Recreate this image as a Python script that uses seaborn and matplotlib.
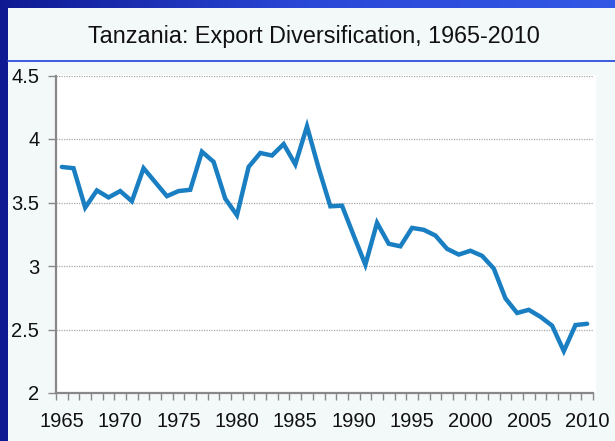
import numpy as np
import pandas as pd
import matplotlib
matplotlib.use("Agg")
import matplotlib.pyplot as plt
import seaborn as sns
from matplotlib.patches import Rectangle
from matplotlib.lines import Line2D

# --- data ---
years = list(range(1965, 2011))
diversification = [
    3.78, 3.77, 3.46, 3.595, 3.54, 3.59, 3.51, 3.77, 3.66, 3.55,
    3.59, 3.60, 3.90, 3.82, 3.53, 3.40, 3.78, 3.89, 3.87, 3.96,
    3.80, 4.10, 3.77, 3.47, 3.475, 3.24, 3.01, 3.34, 3.175, 3.155,
    3.30, 3.285, 3.24, 3.135, 3.09, 3.12, 3.08, 2.98, 2.745, 2.63,
    2.655, 2.60, 2.53, 2.33, 2.535, 2.545,
]
title = "Tanzania: Export Diversification, 1965-2010"
y_ticks = [2, 2.5, 3, 3.5, 4, 4.5]
y_labels = ["2", "2.5", "3", "3.5", "4", "4.5"]
x_labels = list(range(1965, 2011, 5))

df = pd.DataFrame({"Year": years, "Index": diversification})

sns.set_style("white")
plt.rcParams["font.family"] = ["Liberation Sans", "DejaVu Sans"]

W, H = 615, 441
fig = plt.figure(figsize=(W / 100, H / 100), dpi=100)
fig.patch.set_facecolor("#f3f8f8")

# slide decoration: navy left edge + gradient top band
fig.add_artist(Rectangle((0, 0), 8 / W, 1, transform=fig.transFigure,
                         facecolor="#0f1a92", edgecolor="none", zorder=0))
band = fig.add_axes([0, 1 - 8 / H, 1, 8 / H])
grad = np.linspace(0, 1, 256).reshape(1, -1)
cmap = matplotlib.colors.LinearSegmentedColormap.from_list("band", ["#0f1a92", "#2a48d8", "#3358e6"])
band.imshow(grad, aspect="auto", cmap=cmap, extent=[0, 1, 0, 1])
band.axis("off")

# title and separator line
fig.text(0.511, 1 - 37 / H, title, ha="center", va="center", fontsize=16.8, color="#111111")
fig.add_artist(Line2D([8 / W, 1], [1 - 61 / H, 1 - 61 / H], transform=fig.transFigure,
                      color="#2c4fe0", linewidth=1.3))

# white plot area background
fig.add_artist(Rectangle((56 / W, 1 - 393 / H), 540 / W, 318 / H, transform=fig.transFigure,
                         facecolor="white", edgecolor="none", zorder=0))

ax = fig.add_axes([56 / W, 1 - 393 / H, (593 - 56) / W, (393 - 75.5) / H])
ax.set_facecolor("white")
sns.lineplot(data=df, x="Year", y="Index", ax=ax, color="#1a7fc2", linewidth=3.2,
             solid_joinstyle="miter", zorder=3)

ax.set_xlim(1964.5, 2010.5)
ax.set_ylim(2, 4.5)
ax.set_xlabel("")
ax.set_ylabel("")

ax.set_yticks(y_ticks)
ax.set_yticklabels(y_labels)
ax.set_xticks(x_labels)
ax.set_xticklabels([str(v) for v in x_labels])
ax.set_xticks(np.arange(1964.5, 2011, 1), minor=True)

ax.tick_params(axis="x", which="major", length=0, pad=14, labelsize=14.5, labelcolor="#111111")
ax.tick_params(axis="x", which="minor", length=5, width=1, color="#888888", direction="out", bottom=True)
ax.tick_params(axis="y", which="major", length=6, width=1, color="#888888", direction="out",
               left=True, pad=6, labelsize=14.5, labelcolor="#111111")

for y in y_ticks[1:]:
    ax.axhline(y, color="#a8a8a8", linewidth=0.9, linestyle=(0, (1, 1)), zorder=1)

sns.despine(ax=ax, top=True, right=True)
ax.spines["left"].set_color("#888888")
ax.spines["bottom"].set_color("#888888")
ax.spines["left"].set_linewidth(1.6)
ax.spines["bottom"].set_linewidth(1.6)

fig.savefig("out.png", dpi=100, facecolor=fig.get_facecolor())
